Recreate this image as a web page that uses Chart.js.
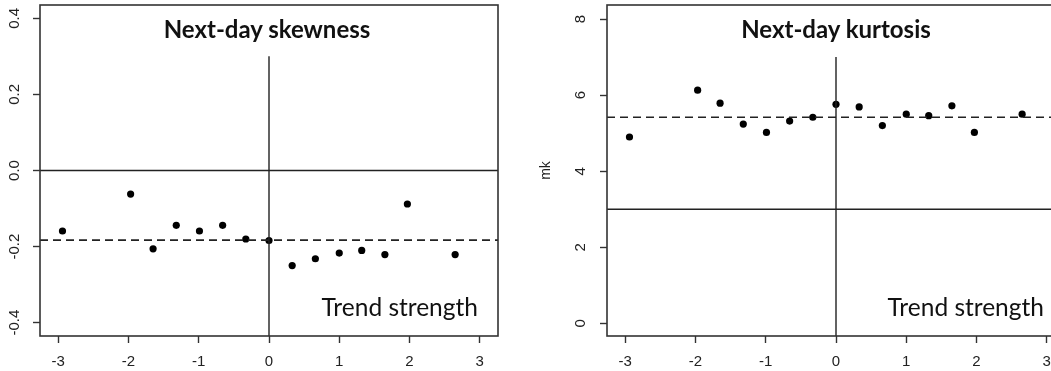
<!DOCTYPE html>
<html>
<head>
<meta charset="utf-8">
<script src="https://cdn.jsdelivr.net/npm/chart.js@4.4.1/dist/chart.umd.min.js"></script>
<style>
  html, body { margin: 0; padding: 0; background: #fff; overflow: hidden; width: 1051px; height: 371px; position: relative; }
  .panel { position: absolute; top: 0; }
  .title { position: absolute; top: 15px; font-family: Lato, sans-serif; font-weight: bold; font-size: 24px; line-height: 1.2; color: #111; white-space: nowrap; transform: translateX(-50%); }
  .note { position: absolute; top: 292px; font-family: Lato, sans-serif; font-size: 24.5px; line-height: 1.2; color: #111; white-space: nowrap; transform: translateX(-100%); }
</style>
</head>
<body>
<div class="panel" style="left:0"><canvas id="skewChart" width="520" height="371"></canvas></div>
<div class="panel" style="left:530px"><canvas id="kurtChart" width="540" height="371"></canvas></div>
<div class="title" style="left:267px">Next-day skewness</div>
<div class="title" style="left:836px">Next-day kurtosis</div>
<div class="note" style="left:478px">Trend strength</div>
<div class="note" style="left:1044px">Trend strength</div>
<script>
// trend strength buckets (x) shared by both panels
const trendX = [-2.94, -1.97, -1.65, -1.32, -0.99, -0.66, -0.33, 0, 0.33, 0.66, 1.0, 1.32, 1.65, 1.97, 2.65];
const skewVals = [-0.159, -0.062, -0.206, -0.144, -0.159, -0.144, -0.180, -0.184, -0.250, -0.232, -0.217, -0.210, -0.221, -0.088, -0.221];
const kurtVals = [4.90, 6.13, 5.79, 5.24, 5.02, 5.32, 5.42, 5.76, 5.69, 5.20, 5.50, 5.46, 5.72, 5.02, 5.50];

const xTicks = [-3, -2, -1, 0, 1, 2, 3];
const skewTicks = [-0.4, -0.2, 0.0, 0.2, 0.4];
const kurtTicks = [0, 2, 4, 6, 8];

// reference lines: [mean (dashed), horizontal solid, top of vertical line at x=0]
const skewRefs = [-0.183, 0, 0.3];
const kurtRefs = [5.42, 3, 7];

const xRange = [-3.26, 3.26];
const skewRange = [-0.435, 0.435];
const kurtRange = [-0.33, 8.37];

const tickFont = { family: '"Liberation Sans", Arial, sans-serif', size: 15 };
const ink = '#222';

const boxPlugin = {
    id: 'box',
    afterDraw(chart) {
        const a = chart.chartArea;
        const ctx = chart.ctx;
        ctx.save();
        ctx.strokeStyle = '#333';
        ctx.lineWidth = 1.6;
        ctx.strokeRect(a.left, a.top, a.right - a.left, a.bottom - a.top);
        ctx.restore();
    }
};

// no automatic label overhang padding, the layout is fixed
function noPad(s) {
    s.paddingTop = 0; s.paddingBottom = 0; s.paddingLeft = 0; s.paddingRight = 0;
}

function makeChart(id, vals, refs, yRange, yTicks, opts) {
    const pts = trendX.map((x, i) => ({ x: x, y: vals[i] }));
    return new Chart(document.getElementById(id), {
        data: {
            datasets: [
                {
                    type: 'line',
                    data: [{ x: xRange[0], y: refs[0] }, { x: xRange[1], y: refs[0] }],
                    borderColor: ink, borderWidth: 1.6, borderDash: [8, 5], pointRadius: 0
                },
                {
                    type: 'line',
                    data: [{ x: xRange[0], y: refs[1] }, { x: xRange[1], y: refs[1] }],
                    borderColor: ink, borderWidth: 1.4, pointRadius: 0
                },
                {
                    type: 'line',
                    data: [{ x: 0, y: refs[2] }, { x: 0, y: yRange[0] }],
                    borderColor: ink, borderWidth: 1.4, pointRadius: 0
                },
                {
                    type: 'scatter',
                    data: pts,
                    backgroundColor: '#000', borderWidth: 0, pointRadius: 3.6
                }
            ]
        },
        options: {
            responsive: false,
            animation: false,
            layout: { padding: opts.padding },
            plugins: { legend: { display: false }, tooltip: { enabled: false } },
            scales: {
                x: {
                    type: 'linear',
                    min: xRange[0], max: xRange[1],
                    afterBuildTicks: s => { s.ticks = xTicks.map(v => ({ value: v })); },
                    afterFit: s => { s.height = 35; noPad(s); },
                    border: { display: false },
                    grid: { display: true, drawOnChartArea: false, drawTicks: true, tickLength: 7, tickColor: '#333', tickWidth: 1.4 },
                    ticks: { font: tickFont, color: ink, padding: 10, maxRotation: 0, callback: v => String(v) }
                },
                y: {
                    type: 'linear',
                    min: yRange[0], max: yRange[1],
                    afterBuildTicks: s => { s.ticks = yTicks.map(v => ({ value: v })); },
                    afterFit: s => { s.width = opts.yWidth; noPad(s); },
                    border: { display: false },
                    grid: { display: true, drawOnChartArea: false, drawTicks: true, tickLength: 7, tickColor: '#333', tickWidth: 1.4 },
                    ticks: {
                        font: tickFont, color: ink, minRotation: 90, maxRotation: 90,
                        crossAlign: 'center', padding: opts.tickPad,
                        callback: opts.fmt
                    },
                    title: opts.yTitle
                }
            }
        },
        plugins: [boxPlugin]
    });
}

makeChart('skewChart', skewVals, skewRefs, skewRange, skewTicks, {
    padding: { left: 0, top: 5, right: 22, bottom: 0 },
    yWidth: 40,
    tickPad: 5,
    fmt: v => v.toFixed(1),
    yTitle: { display: false }
});

makeChart('kurtChart', kurtVals, kurtRefs, kurtRange, kurtTicks, {
    padding: { left: 0, top: 5, right: 5, bottom: 0 },
    yWidth: 77,
    tickPad: 15,
    fmt: v => String(v),
    yTitle: { display: true, text: 'mk', color: ink, font: { family: '"Liberation Sans", Arial, sans-serif', size: 14 }, padding: { top: 8, bottom: 0 } }
});
</script>
</body>
</html>
